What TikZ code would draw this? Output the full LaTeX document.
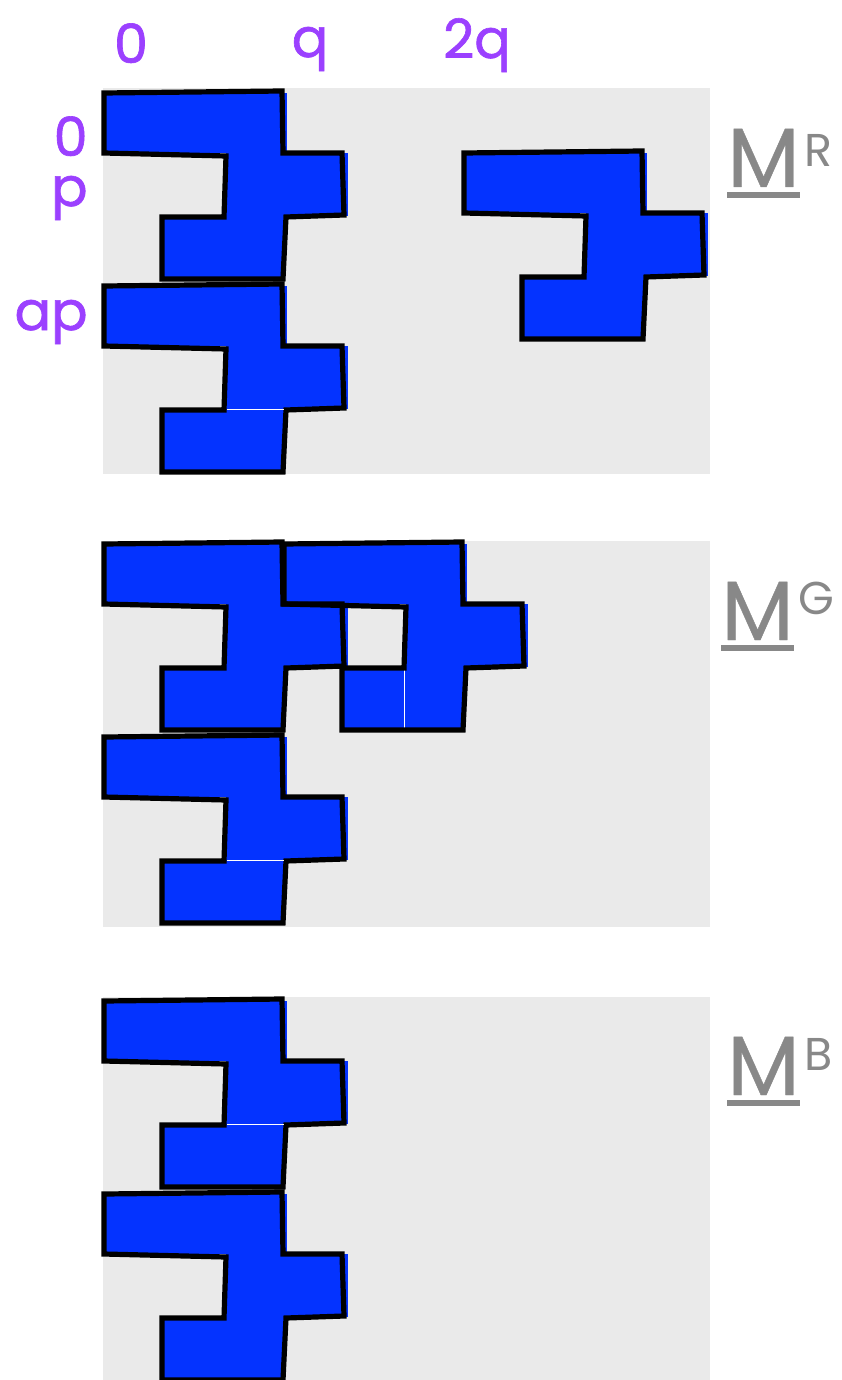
\documentclass[tikz,border=0pt]{standalone}
\usepackage{fontspec}
\setmainfont{Poppins}
\newfontfamily\labfont[FakeBold=1.2]{Poppins}
\newfontfamily\mfont[FakeBold=0.5]{Poppins}
\usetikzlibrary{positioning}

\definecolor{tileblue}{HTML}{0433FF}
\definecolor{panelgray}{HTML}{EAEAEA}
\definecolor{labpurple}{HTML}{9B40FF}
\definecolor{mgray}{HTML}{888888}

% blue body of one tile (three blocks), origin = top left corner
\newcommand{\tilefill}[2]{%
  \begin{scope}[shift={(#1,#2)}]
    \fill[tileblue] (0,1) rectangle (183,61);
    \fill[tileblue] (122,61) rectangle (244,124);
    \fill[tileblue] (58,124) rectangle (181,187);
  \end{scope}}

% rough black outline of the same tile
\newcommand{\tileline}[2]{%
  \begin{scope}[shift={(#1,#2)}]
    \draw[outline] (0,1) -- (178,-1) -- (179,61) -- (238,61) -- (240,123)
      -- (182,125) -- (179,187) -- (58,187) -- (58,125) -- (120,125)
      -- (122,64) -- (0,61) -- cycle;
  \end{scope}}

\begin{document}
\begin{tikzpicture}[x=0.5pt, y=-0.5pt,
    outline/.style={line width=2.6pt, black},
    seam/.style={line width=0.5pt, white},
    axlab/.style={text=labpurple, font=\labfont\fontsize{27}{27}\selectfont, inner sep=0pt},
    mlab/.style={text=mgray, font=\mfont\fontsize{42}{42}\selectfont, inner sep=0pt, anchor=base west},
    suplab/.style={text=mgray, font=\fontsize{23}{23}\selectfont, inner sep=0pt},
    uline/.style={line width=3pt, mgray}]
    \useasboundingbox (0,0) rectangle (841,1380);

    % -----------------------------------------------------
    % 1) Fondos grises
    % -----------------------------------------------------
    \fill[panelgray] (103,88) rectangle (710,474);
    \fill[panelgray] (103,541) rectangle (710,927);
    \fill[panelgray] (103,997) rectangle (710,1380);

    % -----------------------------------------------------
    % 2) Etiquetas de ejes
    % -----------------------------------------------------
    \node[axlab, anchor=base] (x0) at (131,63) {0};
    \node[axlab, anchor=base] (xq) at (310,57) {q};
    \node[axlab, anchor=base] (x2q) at (477,58) {2q};
    \node[axlab, anchor=base east] (y0) at (88,156) {0};
    \node[axlab, anchor=base east] (yp) at (88,206) {p};
    \node[axlab, anchor=base east] (yap) at (88,330) {ap};

    % -----------------------------------------------------
    % 3) Panel superior
    % -----------------------------------------------------
    \tilefill{104}{92}  \tileline{104}{92}
    \tilefill{104}{285} \tileline{104}{285}
    \draw[seam] (227,409) -- (284,409);
    \tilefill{464}{152} \tileline{464}{152}

    % -----------------------------------------------------
    % 4) Panel central
    % -----------------------------------------------------
    \tilefill{104}{543} \tilefill{284}{543}
    \draw[seam] (404,667) -- (404,729);
    \tileline{104}{543} \tileline{284}{543}
    \tilefill{104}{736} \tileline{104}{736}
    \draw[seam] (227,860) -- (284,860);

    % -----------------------------------------------------
    % 5) Panel inferior
    % -----------------------------------------------------
    \tilefill{104}{1000} \tileline{104}{1000}
    \draw[seam] (227,1124) -- (284,1124);
    \tilefill{104}{1193} \tileline{104}{1193}

    % -----------------------------------------------------
    % 6) Nombres de los paneles
    % -----------------------------------------------------
    \node[mlab] (mR) at (727,187) {M};
    \node[suplab, below right=3pt and 2pt of mR.north east] (sR) {R};
    \draw[uline] ([yshift=-4pt]mR.base west) -- ([yshift=-4pt]mR.base east);

    \node[mlab] (mG) at (721,640) {M};
    \node[suplab, below right=0pt and 2pt of mG.north east] (sG) {G};
    \draw[uline] ([yshift=-4pt]mG.base west) -- ([yshift=-4pt]mG.base east);

    \node[mlab] (mB) at (727,1095) {M};
    \node[suplab, below right=1pt and 2pt of mB.north east] (sB) {B};
    \draw[uline] ([yshift=-4pt]mB.base west) -- ([yshift=-4pt]mB.base east);

\end{tikzpicture}
\end{document}
